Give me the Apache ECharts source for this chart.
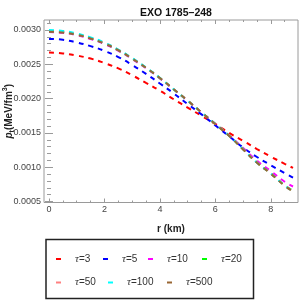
<!DOCTYPE html>
<html><head><meta charset="utf-8">
<script src="https://cdn.jsdelivr.net/npm/echarts@6/dist/echarts.min.js"></script>
<style>html,body{margin:0;padding:0;background:#fff}#c{width:300px;height:300px}</style>
</head><body><div id="c"></div>
<script>
const r = [0,0.5,1,1.5,2,2.5,3,3.5,4,4.5,5,5.5,6,6.5,7,7.5,8,8.5,8.8];
const tau3 = [0.00267,0.002658,0.002627,0.002583,0.002518,0.00244,0.00234,0.00223,0.002115,0.00199,0.00187,0.00175,0.00163,0.0015,0.001385,0.001265,0.001155,0.00105,0.00099];
const tau5 = [0.00287,0.002857,0.002818,0.002765,0.002695,0.002605,0.00249,0.00236,0.00222,0.002075,0.00192,0.00177,0.00161,0.00145,0.001288,0.00115,0.00103,0.000915,0.00085];
const tau10 = [0.00297,0.002958,0.002924,0.002868,0.002795,0.002697,0.002575,0.002442,0.002294,0.002132,0.001968,0.0018,0.001632,0.001463,0.001282,0.001095,0.000945,0.00079,0.00072];
const tau20 = [0.00298,0.002968,0.002934,0.002878,0.002804,0.002705,0.002582,0.002448,0.002298,0.002134,0.00197,0.0018,0.00163,0.00146,0.001265,0.00107,0.000912,0.000738,0.00066];
const tau50 = [0.00299,0.002977,0.002942,0.002885,0.00281,0.00271,0.002586,0.00245,0.0023,0.002135,0.00197,0.0018,0.00163,0.001458,0.001263,0.001068,0.00091,0.000735,0.000655];
const tau100 = [0.003,0.002986,0.00295,0.002892,0.002816,0.002715,0.00259,0.002453,0.002302,0.002136,0.00197,0.0018,0.00163,0.001457,0.001262,0.001067,0.000908,0.000733,0.000652];
const tau500 = [0.002975,0.002963,0.00293,0.002876,0.002803,0.002705,0.002583,0.002449,0.0023,0.002136,0.001972,0.0018,0.001628,0.001455,0.00126,0.001065,0.000906,0.00073,0.00065];

const names = ['τ=3','τ=5','τ=10','τ=20','τ=50','τ=100','τ=500'];
const colors = ['#ff0000','#0000ff','#ff00ff','#00ff00','#ff8080','#00ffff','#996633'];
const seriesData = [tau3,tau5,tau10,tau20,tau50,tau100,tau500];

const xTicks = [0,2,4,6,8];
const xMinor = [0,0.5,1,1.5,2,2.5,3,3.5,4,4.5,5,5.5,6,6.5,7,7.5,8,8.5];
const yTicks = [0.0005,0.0010,0.0015,0.0020,0.0025,0.0030];
const yMinor = [0.0005,0.0006,0.0007,0.0008,0.0009,0.0010,0.0011,0.0012,0.0013,0.0014,0.0015,0.0016,0.0017,0.0018,0.0019,0.0020,0.0021,0.0022,0.0023,0.0024,0.0025,0.0026,0.0027,0.0028,0.0029,0.0030,0.0031];

const X_MIN = -0.18, X_MAX = 8.98, Y_MIN = 0.000487, Y_MAX = 0.003145;
const frameColor = '#9a9a9a';

function xAx(pos, vals, len, labels) {
  return {
    type:'value', position: pos, min: X_MIN, max: X_MAX,
    axisLine:{show:false},
    axisTick:{show:true, inside:true, length:len, customValues: vals, lineStyle:{color:frameColor, width:1}},
    axisLabel:{show:labels, customValues: xTicks, margin:3, fontSize:9, color:'#444', fontFamily:'Liberation Sans'},
    splitLine:{show:false}
  };
}
function yAx(pos, vals, len, labels) {
  return {
    type:'value', position: pos, min: Y_MIN, max: Y_MAX,
    axisLine:{show:false},
    axisTick:{show:true, inside:true, length:len, customValues: vals, lineStyle:{color:frameColor, width:1}},
    axisLabel:{show:labels, customValues: yTicks, margin:3, fontSize:9, color:'#444', fontFamily:'Liberation Sans',
      formatter: v => v.toFixed(4)},
    splitLine:{show:false}
  };
}

const xAxes = [xAx('bottom', xTicks, 4, true), xAx('bottom', xMinor, 2, false), xAx('top', xTicks, 4, false), xAx('top', xMinor, 2, false)];
xAxes[0].name = 'r (km)';
xAxes[0].nameLocation = 'middle';
xAxes[0].nameGap = 22;
xAxes[0].nameMoveOverlap = false;
xAxes[0].nameTextStyle = {fontSize:10, fontWeight:'bold', color:'#222', fontFamily:'Liberation Sans'};

const yAxes = [yAx('left', yTicks, 4, true), yAx('left', yMinor, 2, false), yAx('right', yTicks, 4, false), yAx('right', yMinor, 2, false)];
yAxes[0].name = '{i|p}{s|t}{n|(MeV/fm}{sup|3}{n|)}';
yAxes[0].nameLocation = 'middle';
yAxes[0].nameGap = 28;
yAxes[0].nameMoveOverlap = false;
yAxes[0].nameTextStyle = {
  color:'#222',
  rich:{
    i:{fontSize:10, fontWeight:'bold', fontStyle:'italic', fontFamily:'Liberation Sans', lineHeight:14, color:'#222'},
    s:{fontSize:7, fontWeight:'bold', fontFamily:'Liberation Sans', verticalAlign:'bottom', lineHeight:14, color:'#222'},
    n:{fontSize:10, fontWeight:'bold', fontFamily:'Liberation Sans', lineHeight:14, color:'#222'},
    sup:{fontSize:7, fontWeight:'bold', fontFamily:'Liberation Sans', verticalAlign:'top', lineHeight:14, color:'#222'}
  }
};

const legendPos = [[56,253.5],[103,253.5],[148,253.5],[202,253.5],[56,277],[108,277],[167,277]];
const legends = names.map((n,i) => ({
  data:[n], left: legendPos[i][0], top: legendPos[i][1], padding:0, itemGap:0,
  icon:'rect', itemWidth:5, itemHeight:2,
  formatter: name => '{i|τ}{n|' + name.slice(1) + '}',
  textStyle:{padding:[0,0,0,9], rich:{
    i:{fontSize:11, fontStyle:'italic', fontFamily:'Liberation Serif', color:'#333'},
    n:{fontSize:10, fontFamily:'Liberation Sans', color:'#333'}
  }}
}));

const series = names.map((n,i) => ({
  name:n, type:'line', xAxisIndex:0, yAxisIndex:0,
  data: r.map((x,k) => [x, seriesData[i][k]]),
  smooth:true, showSymbol:false, symbol:'none',
  color: colors[i],
  lineStyle:{color:colors[i], width:2, type:[5,5]},
  itemStyle:{color:colors[i]},
  animation:false
}));

const chart = echarts.init(document.getElementById('c'), null, {renderer:'canvas'});
chart.setOption({
  animation:false,
  backgroundColor:'#fff',
  title:{text:'EXO 1785–248', left:171, textAlign:'center', top:3,
    textStyle:{fontSize:10.5, fontWeight:'bold', color:'#111', fontFamily:'Liberation Sans'}},
  grid:{left:44, right:2, top:20, bottom:97.5, containLabel:false, outerBoundsMode:'none', show:true, borderColor:frameColor, borderWidth:1, backgroundColor:'transparent'},
  xAxis: xAxes,
  yAxis: yAxes,
  legend: legends,
  graphic:[{type:'rect', shape:{x:46, y:239.5, width:207.5, height:59}, style:{fill:'none', stroke:'#222', lineWidth:1.5}, silent:true}],
  series: series
});
</script></body></html>
